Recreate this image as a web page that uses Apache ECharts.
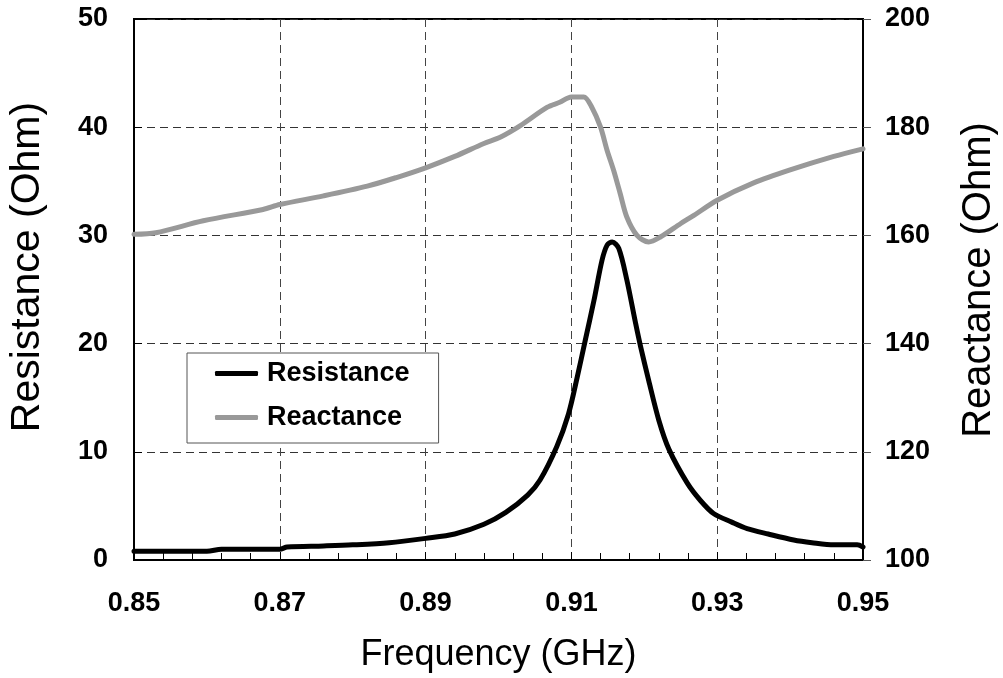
<!DOCTYPE html>
<html>
<head>
<meta charset="utf-8">
<script src="https://cdn.jsdelivr.net/npm/echarts@6/dist/echarts.min.js"></script>
<style>
html,body{margin:0;padding:0;background:#fff;}
#chart{width:1003px;height:678px;}
</style>
</head>
<body>
<div id="chart"></div>
<script>
// Frequency (GHz) samples and Resistance (Ohm), left axis
const freqR = [0.850,0.855,0.860,0.862,0.866,0.870,0.871,0.876,0.880,0.885,0.890,0.894,0.898,0.901,0.904,0.9057,0.908,0.9096,0.9108,0.9119,0.9131,0.9142,0.9149,0.9156,0.9165,0.9176,0.9188,0.9195,0.9206,0.922,0.9234,0.9259,0.9277,0.9295,0.932,0.9341,0.937,0.9405,0.943,0.946,0.9492,0.950];
const resistance = [0.8,0.8,0.8,1.0,1.0,1.0,1.2,1.3,1.4,1.6,2.0,2.4,3.3,4.4,6.0,7.4,10.5,13.5,16.9,20.3,24.0,27.7,29.1,29.4,28.8,25.9,21.9,19.7,16.6,12.9,10.2,7.1,5.5,4.3,3.5,2.9,2.4,1.85,1.6,1.4,1.4,1.2];
// Frequency (GHz) samples and Reactance (Ohm), right axis
const freqX = [0.850,0.853,0.8595,0.8677,0.870,0.876,0.882,0.886,0.890,0.894,0.898,0.9003,0.903,0.9067,0.9084,0.910,0.9117,0.9128,0.914,0.9149,0.9158,0.9167,0.9176,0.919,0.9206,0.9222,0.925,0.9268,0.930,0.935,0.940,0.946,0.950];
const reactance = [160.2,160.5,162.7,164.8,165.7,167.3,169.1,170.7,172.5,174.6,177.0,178.2,180.3,183.7,184.6,185.6,185.6,183.7,180.0,175.7,172.0,167.7,163.4,160.0,158.8,159.7,162.2,163.7,166.5,169.7,172.1,174.6,176.0];

const seriesNames = ['Resistance','Reactance'];
const axisTitles = {x:'Frequency (GHz)', left:'Resistance (Ohm)', right:'Reactance (Ohm)'};

const FONT = '"Liberation Sans", Arial, sans-serif';
const chart = echarts.init(document.getElementById('chart'), null, {renderer:'canvas'});

const option = {
  animation:false,
  backgroundColor:'#fff',
  grid:{left:134,right:140,top:19,bottom:118,show:true,borderColor:'#000',borderWidth:2,backgroundColor:'transparent',
    containLabel:false,outerBoundsMode:'none'},
  legend:{
    orient:'vertical',left:187,top:353,
    data:seriesNames,
    icon:'roundRect',itemWidth:43,itemHeight:5,itemGap:17,
    padding:[7,29,12,28],
    backgroundColor:'#fff',borderColor:'#555',borderWidth:1,borderRadius:0,
    textStyle:{fontFamily:FONT,fontSize:27,fontWeight:'bold',color:'#000',padding:[0,0,0,4]},
    z:10
  },
  xAxis:{
    type:'value',min:0.85,max:0.95,interval:0.02,
    name:axisTitles.x,nameLocation:'middle',nameGap:77,
    nameTextStyle:{fontFamily:FONT,fontSize:36,color:'#000'},
    axisLine:{show:true,lineStyle:{color:'#000',width:2}},
    axisTick:{show:true,inside:true,length:8,lineStyle:{color:'#000',width:1}},
    minorTick:{show:true,splitNumber:5,length:7,lineStyle:{color:'#000',width:1}},
    axisLabel:{fontFamily:FONT,fontSize:27,fontWeight:'bold',color:'#000',margin:30,
      formatter:v=>v.toFixed(2)},
    splitLine:{show:true,lineStyle:{color:'#444',type:[8,5],width:1}}
  },
  yAxis:[{
    type:'value',min:0,max:50,interval:10,position:'left',
    name:axisTitles.left,nameLocation:'middle',nameGap:86,
    nameTextStyle:{fontFamily:FONT,fontSize:41,color:'#000',padding:[0,0,0,45]},
    axisLine:{show:true,lineStyle:{color:'#000',width:2}},
    axisTick:{show:true,inside:true,length:8,lineStyle:{color:'#000',width:1}},
    axisLabel:{fontFamily:FONT,fontSize:27,fontWeight:'bold',color:'#000',margin:26},
    splitLine:{show:true,lineStyle:{color:'#333',type:[8,5],width:1}}
  },{
    type:'value',min:100,max:200,interval:20,position:'right',
    name:axisTitles.right,nameLocation:'middle',nameGap:96,nameRotate:90,
    nameTextStyle:{fontFamily:FONT,fontSize:40,color:'#000',padding:[0,0,0,19]},
    axisLine:{show:true,lineStyle:{color:'#000',width:2}},
    axisTick:{show:true,inside:false,length:8,lineStyle:{color:'#555',width:1}},
    axisLabel:{fontFamily:FONT,fontSize:27,fontWeight:'bold',color:'#000',margin:22},
    splitLine:{show:false}
  }],
  series:[{
    name:seriesNames[0],type:'line',yAxisIndex:0,symbol:'none',smooth:0.3,
    data:freqR.map((f,i)=>[f,resistance[i]]),
    lineStyle:{color:'#000',width:5,cap:'round',join:'round'},
    itemStyle:{color:'#000'},z:3
  },{
    name:seriesNames[1],type:'line',yAxisIndex:1,symbol:'none',smooth:0.3,
    data:freqX.map((f,i)=>[f,reactance[i]]),
    lineStyle:{color:'#999',width:5,cap:'round',join:'round'},
    itemStyle:{color:'#999'},z:2
  }]
};
chart.setOption(option);
</script>
</body>
</html>
